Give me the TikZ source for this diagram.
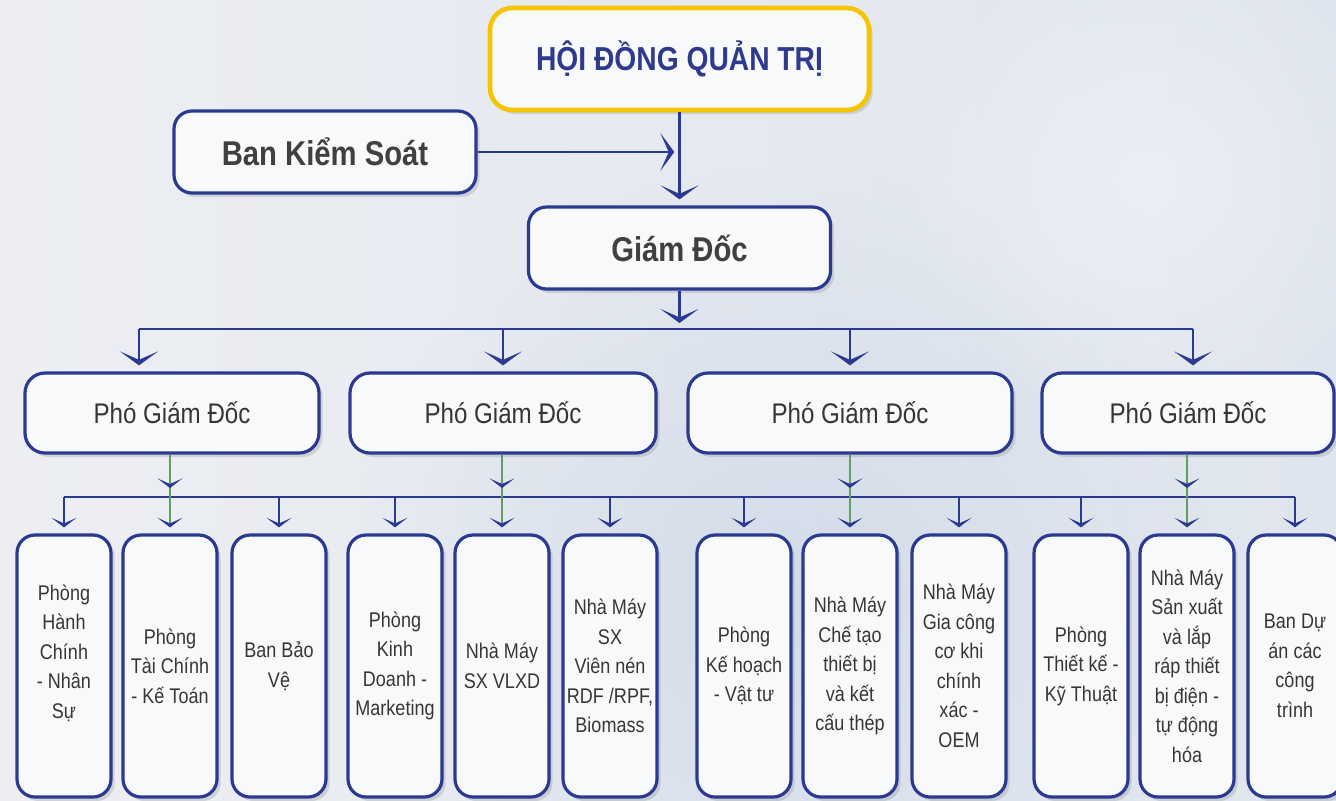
\documentclass[tikz,border=0pt]{standalone}
\usepackage{fontspec}
\setmainfont[FakeStretch=0.85]{Liberation Sans}
\usetikzlibrary{arrows.meta,shadows,fadings}
\definecolor{navy}{HTML}{2B3990}
\definecolor{hdblue}{HTML}{2E3A8C}
\definecolor{txtgray}{HTML}{363636}
\definecolor{boldgray}{HTML}{404040}
\definecolor{gold}{HTML}{F6C400}
\definecolor{gline}{HTML}{5E9F62}
\definecolor{boxfill}{HTML}{F8F9FA}
\definecolor{bgl}{HTML}{ECEEF2}
\definecolor{bgr}{HTML}{DFE5EE}
\definecolor{glowc}{HTML}{C3D1E4}
\tikzfading[name=myglow, inner color=transparent!0, outer color=transparent!100]
\begin{document}
\begin{tikzpicture}[x=0.5pt,y=-0.5pt,
  shad/.style={drop shadow={shadow xshift=1.8pt,shadow yshift=-2pt,opacity=0.25}},
  anybox/.style={shad, fill=boxfill, inner sep=0pt, align=center},
  topbox/.style={anybox, draw=gold, line width=2.3pt, rounded corners=11pt,
    minimum width=189.5pt, minimum height=51pt, text=hdblue,
    font=\bfseries\fontsize{16.6}{20}\selectfont},
  midbox/.style={anybox, draw=navy, line width=1.6pt, rounded corners=9pt,
    minimum width=151pt, minimum height=41pt, text=boldgray,
    font=\bfseries\fontsize{17.2}{20}\selectfont},
  pbox/.style={anybox, draw=navy, line width=1.6pt, rounded corners=10pt,
    minimum height=40pt, text=txtgray, font=\fontsize{14.2}{16}\selectfont},
  sbox/.style={anybox, draw=navy, line width=1.6pt, rounded corners=9pt,
    minimum width=47pt, minimum height=131pt, text=txtgray,
    font=\fontsize{10.6}{14.75}\selectfont},
  bline/.style={draw=navy, line width=1.2pt},
  arr/.style={bline, -{Stealth[length=7pt,width=19pt,inset=4.2pt]}, shorten >=3pt},
  sarr/.style={bline, -{Stealth[length=4.8pt,width=12.5pt,inset=2.8pt]}, shorten >=3pt},
  gl/.style={draw=gline, line width=0.7pt},
  garr/.style={gl, -{Stealth[length=4.8pt,width=12.5pt,inset=2.8pt,color=navy,fill=navy,line width=0.9pt]}}
]
\useasboundingbox (0,0) rectangle (1336,800);
% background
\begin{scope}
\clip (0,0) rectangle (1336,800);
\shade[left color=bgl, right color=bgr] (0,0) rectangle (1336,800);
\fill[glowc, opacity=0.55, path fading=myglow] (780,600) circle (430);
\fill[white, opacity=0.35, path fading=myglow] (1150,180) circle (260);
\end{scope}

% top nodes
\node[topbox] (hdqt) at (679.5,59) {HỘI ĐỒNG QUẢN TRỊ};
\node[midbox] (bks) at (325,152) {Ban Kiểm Soát};
\node[midbox] (gd) at (679.5,248) {Giám Đốc};

% deputy directors
\node[pbox, minimum width=147pt] (p1) at (172,413) {Phó Giám Đốc};
\node[pbox, minimum width=153pt] (p2) at (503,413) {Phó Giám Đốc};
\node[pbox, minimum width=162pt] (p3) at (850,413) {Phó Giám Đốc};
\node[pbox, minimum width=146pt] (p4) at (1188,413) {Phó Giám Đốc};

% departments
\node[sbox] (s1) at (64,666) {Phòng\\Hành\\Chính\\- Nhân\\Sự\\\mbox{}};
\node[sbox] (s2) at (170,666) {Phòng\\Tài Chính\\- Kế Toán};
\node[sbox] (s3) at (279,666) {Ban Bảo\\Vệ};
\node[sbox] (s4) at (395,666) {Phòng\\Kinh\\Doanh -\\Marketing};
\node[sbox] (s5) at (502,666) {Nhà Máy\\SX VLXD};
\node[sbox] (s6) at (610,666) {Nhà Máy\\SX\\Viên nén\\RDF /RPF,\\Biomass};
\node[sbox] (s7) at (744,666) {Phòng\\Kế hoạch\\- Vật tư};
\node[sbox] (s8) at (850,666) {Nhà Máy\\Chế tạo\\thiết bị\\và kết\\cấu thép};
\node[sbox] (s9) at (959,666) {Nhà Máy\\Gia công\\cơ khi\\chính\\xác -\\OEM};
\node[sbox] (s10) at (1081,666) {Phòng\\Thiết kế -\\Kỹ Thuật};
\node[sbox] (s11) at (1187,666) {Nhà Máy\\Sản xuất\\và lắp\\ráp thiết\\bị điện -\\tự động\\hóa};
\node[sbox] (s12) at (1295,666) {Ban Dự\\án các\\công\\trình};

% coordinates
\coordinate (bus1) at (139,329);
\coordinate (bus2) at (1193,329);
\coordinate (lbus) at (0,497);
\coordinate (mid) at (0,488);

% connectors top
\draw[arr] (hdqt.south) -- (gd.north);
\draw[arr, shorten >=2.6pt] (bks.east) -- (bks.east -| hdqt.south);
\draw[arr] (gd.south) -- (gd.south |- bus1);
\draw[bline] (bus1) -- (bus2);
\draw[arr] (bus1) -- (bus1 |- p1.north);
\draw[arr] (p2.north |- bus1) -- (p2.north);
\draw[arr] (p3.north |- bus1) -- (p3.north);
\draw[arr] (bus2) -- (bus2 |- p4.north);

% lower bus
\draw[bline] (s1.north |- lbus) -- (s12.north |- lbus);
\foreach \s in {s1,s3,s4,s6,s7,s9,s10,s12}
  \draw[sarr] (\s.north |- lbus) -- (\s.north);

% green links from deputies
\foreach \p/\s in {p1/s2,p2/s5,p3/s8,p4/s11}{
  \draw[garr, shorten >=3pt] (\p.south -| \s.north) -- (\s.north);
  \draw[garr] (\p.south -| \s.north) -- (\s.north |- mid);
}
\end{tikzpicture}
\end{document}
